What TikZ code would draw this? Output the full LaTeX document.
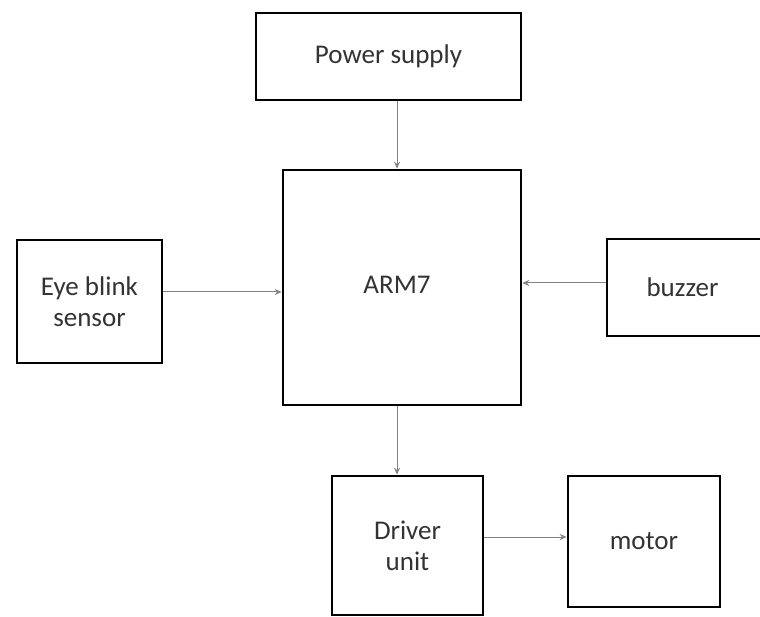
\documentclass[tikz,border=0pt]{standalone}
\usepackage{fontspec}
\setmainfont{Carlito}
\usetikzlibrary{arrows.meta}
\definecolor{txt}{HTML}{333333}
\definecolor{arr}{HTML}{808080}
\tikzset{
  blk/.style={draw=black, line width=2.6pt, inner sep=0pt, text=txt, align=center, font=\fontsize{27}{31}\selectfont},
  conn/.style={draw=arr, line width=1pt, -{Stealth[length=7pt,width=6pt,open]}}
}
\begin{document}
\begin{tikzpicture}[x=1pt,y=-1pt]
\useasboundingbox (0,0) rectangle (760,617);
\fill[white] (0,0) rectangle (760,617);
\begin{scope}
\clip (0,0) rectangle (760,617);
\node[blk, minimum width=265pt, minimum height=87pt] (ps) at (388.5,56.5) {Power supply};
\node[blk, minimum width=238pt, minimum height=235pt, text depth=0pt] (arm) at (402,287.5) {};
\node[text=txt, font=\fontsize{27}{31}\selectfont] (armt) at (397,285) {ARM7};
\node[blk, minimum width=145pt, minimum height=123pt] (eye) at (89.5,301.5) {Eye blink\\sensor};
\node[blk, minimum width=175pt, minimum height=97pt] (buz) at (694.5,287.5) {\hspace*{-24pt}buzzer};
\node[blk, minimum width=151pt, minimum height=139pt] (drv) at (407.5,545.5) {Driver\\unit};
\node[blk, minimum width=152pt, minimum height=131pt] (mot) at (644,541.5) {motor};
\end{scope}
\draw[conn] (ps.south -| 397,0) -- (arm.north -| 397,0);
\draw[conn] (eye.east |- 0,292) -- (arm.west |- 0,292);
\draw[conn] (buz.west |- 0,283) -- (arm.east |- 0,283);
\draw[conn] (arm.south -| 397,0) -- (drv.north -| 397,0);
\draw[conn] (drv.east |- 0,537) -- (mot.west |- 0,537);
\end{tikzpicture}
\end{document}
